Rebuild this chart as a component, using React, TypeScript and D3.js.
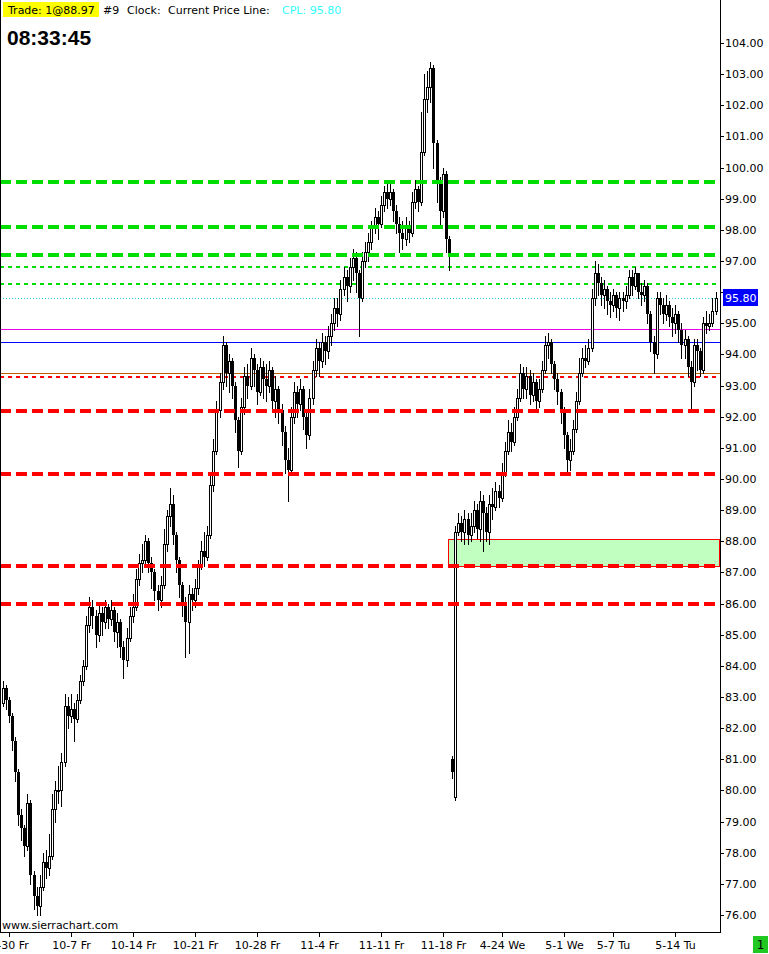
import React from "react";
import * as d3 from "d3";

type Bar = [number, number, number, number]; // open, high, low, close

const barsSep30: Bar[] = [
  [82.8,83.5,82.7,83.3],[83.3,83.4,82.6,82.9],[82.9,83.0,82.2,82.4],[82.4,82.5,81.3,81.6],
  [81.6,81.7,80.3,80.6],[80.6,80.7,78.9,79.2],[79.2,79.4,78.4,78.8],[78.8,78.9,77.9,78.2],
  [78.2,79.9,78.1,79.6],[79.6,79.7,77.0,77.3],[77.3,77.4,76.2,76.6],[76.6,76.9,76.0,76.3],
  [76.3,77.3,76.0,76.9],[76.9,78.0,76.8,77.7],[77.7,78.1,77.2,77.5],[77.5,78.6,77.3,77.9],
  [77.9,79.9,77.8,79.4],[79.4,80.3,79.0,80.0],[80.0,80.8,79.6,80.0],[80.0,81.2,79.5,80.9],
  [80.9,83.1,80.8,82.7],[82.7,83.0,82.0,82.4],
];
const barsOct07: Bar[] = [
  [82.4,83.1,82.2,82.6],[82.6,82.8,81.6,82.3],[82.3,83.1,82.2,82.9],[82.9,83.7,82.8,83.5],
  [83.5,84.2,83.4,84.0],[84.0,85.6,83.9,85.3],[85.3,86.2,85.1,85.9],[85.9,86.1,85.2,85.6],
  [85.6,85.8,84.6,85.0],[85.0,86.0,84.8,85.7],[85.7,85.9,85.0,85.4],[85.4,86.1,85.2,85.9],
  [85.9,86.0,85.2,85.5],[85.5,86.1,85.3,85.8],[85.8,85.9,84.8,85.1],[85.1,85.7,84.6,85.4],
  [85.4,85.5,84.3,84.6],[84.6,84.8,83.6,84.2],[84.2,85.2,84.0,84.9],[84.9,85.9,84.8,85.6],
];
const barsOct14: Bar[] = [
  [85.6,86.3,85.4,85.9],[85.9,87.1,85.8,86.8],[86.8,87.6,86.6,87.3],[87.3,87.9,87.0,87.4],
  [87.4,88.2,87.2,88.0],[88.0,88.1,87.0,87.3],[87.3,87.5,86.5,87.0],[87.0,87.1,86.1,86.4],
  [86.4,86.6,85.8,86.1],[86.1,86.9,85.9,86.6],[86.6,88.4,86.5,87.9],[87.9,89.0,87.7,88.8],
  [88.8,89.7,88.5,89.2],[89.2,89.5,87.9,88.2],[88.2,88.3,87.0,87.4],[87.4,87.5,86.2,86.6],
  [86.6,86.7,85.6,86.0],[86.0,86.2,84.3,85.4],[85.4,86.6,84.4,86.3],[86.3,86.5,85.8,86.1],
];
const barsOct21: Bar[] = [
  [86.1,86.8,85.9,86.5],[86.5,87.4,86.3,87.2],[87.2,88.0,87.1,87.7],[87.7,88.3,87.2,87.5],
  [87.5,88.5,87.4,88.2],[88.2,90.1,88.1,89.8],[89.8,91.3,89.6,90.9],[90.9,92.5,90.8,92.2],
  [92.2,93.4,92.0,93.1],[93.1,94.6,92.9,94.3],[94.3,94.4,93.0,93.4],[93.4,94.0,92.8,93.8],
  [93.8,93.9,92.6,93.0],[93.0,93.1,91.5,91.9],[91.9,92.0,90.4,90.9],[90.9,92.6,90.8,92.3],
  [92.3,93.6,92.1,93.3],[93.3,93.7,92.6,93.0],[93.0,94.2,92.9,93.9],[93.9,94.0,93.0,93.5],
];
const barsOct28: Bar[] = [
  [93.5,93.7,92.4,92.8],[92.8,93.9,92.7,93.6],[93.6,93.8,92.6,93.2],[93.2,93.7,92.5,93.0],
  [93.0,93.8,92.8,93.5],[93.5,93.6,92.2,92.5],[92.5,93.3,92.0,92.9],[92.9,93.0,91.8,92.2],
  [92.2,92.4,91.1,91.5],[91.5,91.7,90.2,90.6],[90.6,91.0,89.3,90.3],[90.3,92.3,90.2,92.0],
  [92.0,93.1,91.8,92.8],[92.8,93.0,92.0,92.4],[92.4,93.2,92.2,92.9],[92.9,93.0,91.6,92.0],
  [92.0,92.2,91.0,91.4],[91.4,92.9,91.3,92.6],[92.6,93.8,92.4,93.5],[93.5,94.5,93.3,94.2],
];
const barsNov04: Bar[] = [
  [94.2,94.4,93.3,93.8],[93.8,94.7,93.6,94.4],[94.4,94.6,93.7,94.1],[94.1,94.9,93.9,94.6],
  [94.6,95.3,94.3,95.0],[95.0,95.8,94.8,95.5],[95.5,95.8,94.9,95.3],[95.3,96.4,95.1,96.1],
  [96.1,96.8,95.9,96.5],[96.5,96.7,95.7,96.2],[96.2,97.1,96.0,96.8],[96.8,97.4,96.4,97.1],
  [97.1,97.3,96.0,96.6],[96.6,96.7,94.6,95.8],[95.8,97.3,95.7,97.0],[97.0,97.6,96.8,97.3],
  [97.3,97.9,97.0,97.6],[97.6,98.3,97.4,98.1],[98.1,98.7,97.9,98.4],[98.4,98.6,97.7,98.2],
];
const barsNov11: Bar[] = [
  [98.2,99.1,98.1,98.8],[98.8,99.4,98.6,99.2],[99.2,99.5,98.7,99.0],[99.0,99.5,98.8,99.2],
  [99.2,99.3,98.3,98.6],[98.6,98.8,97.9,98.2],[98.2,98.4,97.3,97.9],[97.9,98.3,97.4,97.7],
  [97.7,98.4,97.5,98.1],[98.1,98.3,97.6,97.9],[97.9,99.2,97.8,98.9],[98.9,99.6,98.7,99.3],
  [99.3,99.4,98.6,98.9],[98.9,101.8,98.8,100.5],[100.5,103.0,100.4,102.2],[102.2,103.1,101.8,102.6],
  [102.6,103.4,102.1,103.2],[103.2,103.3,100.0,100.8],[100.8,100.9,98.9,99.6],[99.6,99.7,98.2,98.6],
];
const barsNov18: Bar[] = [
  [98.6,100.0,98.4,99.8],[99.8,99.9,97.3,97.7],[97.7,97.8,96.7,97.2],[81.0,81.1,80.4,80.6],
  [79.8,88.5,79.7,88.3],[88.3,88.9,88.2,88.6],[88.6,88.8,88.0,88.3],[88.3,89.0,87.9,88.7],
  [88.7,88.9,87.9,88.2],[88.2,88.9,88.0,88.5],[88.5,89.3,88.3,89.0],[89.0,89.2,88.1,88.4],
  [88.4,89.6,88.0,89.3],[89.3,89.5,87.7,88.9],[88.9,89.1,88.0,88.3],[88.3,89.5,87.9,89.2],
  [89.2,89.7,88.7,89.1],[89.1,89.9,89.0,89.6],[89.6,89.8,89.1,89.4],
];
const barsApr24: Bar[] = [
  [89.4,90.5,89.3,90.2],[90.2,91.2,90.1,90.9],[90.9,91.9,90.8,91.5],[91.5,91.8,90.9,91.2],
  [91.2,92.3,91.1,92.0],[92.0,92.9,91.9,92.6],[92.6,93.7,92.5,93.4],[93.4,93.6,92.6,92.9],
  [92.9,93.6,92.6,93.3],[93.3,93.5,92.4,92.7],[92.7,93.4,92.5,93.1],[93.1,93.2,92.2,92.5],
  [92.5,93.2,92.3,92.9],[92.9,93.8,92.8,93.5],[93.5,94.6,93.4,94.3],[94.3,94.7,93.9,94.4],
  [94.4,94.5,93.4,93.7],[93.7,93.8,92.9,93.2],[93.2,93.4,92.4,92.8],[92.8,92.9,91.8,92.2],
];
const barsMay01: Bar[] = [
  [92.2,92.3,91.0,91.4],[91.4,91.5,90.2,90.6],[90.6,91.3,90.3,90.9],[90.9,91.9,90.8,91.6],
  [91.6,92.8,91.5,92.5],[92.5,93.9,92.4,93.4],[93.4,94.2,93.3,93.9],[93.9,94.3,93.6,93.8],
  [93.8,94.5,93.7,94.2],[94.2,96.1,94.1,95.8],[95.8,97.0,95.6,96.6],[96.6,96.9,95.9,96.3],
  [96.3,96.5,95.6,95.9],[95.9,96.4,95.5,96.1],[96.1,96.2,95.3,95.7],[95.7,96.0,95.2,95.6],
];
const barsMay07: Bar[] = [
  [95.6,96.1,95.4,95.9],[95.9,96.0,95.2,95.5],[95.5,96.0,95.1,95.8],[95.8,96.0,95.4,95.7],
  [95.7,96.2,95.5,95.9],[95.9,96.7,95.8,96.5],[96.5,96.7,95.9,96.2],[96.2,96.8,96.1,96.6],
  [96.6,96.6,95.8,96.0],[96.0,96.3,95.6,95.9],[95.9,96.4,95.7,96.2],[96.2,96.3,95.0,95.3],
  [95.3,95.4,94.1,94.4],[94.4,94.6,93.4,94.0],[94.0,96.0,93.9,95.8],[95.8,96.0,95.3,95.6],
  [95.6,95.8,95.0,95.3],[95.3,95.9,95.1,95.6],[95.6,95.7,94.9,95.2],[95.2,95.5,94.6,95.0],
];
const barsMay14: Bar[] = [
  [95.0,95.6,94.7,95.3],[95.3,95.4,94.4,94.8],[94.8,95.0,93.9,94.3],[94.3,94.8,93.9,94.5],
  [94.5,94.6,93.3,93.6],[93.6,93.8,92.2,93.1],[93.1,94.5,93.0,94.3],[94.3,94.5,93.5,94.1],
  [94.1,94.2,93.3,93.5],[93.5,95.2,93.4,95.0],[95.0,95.4,94.7,94.9],[94.9,95.3,94.8,95.0],
  [95.0,95.8,94.9,95.4],[95.4,96.0,95.3,95.8],
];

const dateLabels = ["9-30 Fr","10-7 Fr","10-14 Fr","10-21 Fr","10-28 Fr","11-4 Fr","11-11 Fr","11-18 Fr","4-24 We","5-1 We","5-7 Tu","5-14 Tu"];
const dateTickIndex = [2,22,42,62,82,102,122,142,161,181,197,217];

const priceTicks = d3.range(76, 105, 1);

const greenThickLevels = [99.54, 98.09, 97.19];
const greenThinLevels = [96.80, 96.27];
const redThickLevels = [92.18, 90.15, 87.22, 85.98];
const redThinLevels = [93.28];
const magentaLevel = 94.81;
const blueLevel = 94.39;
const brownLevel = 93.40;
const currentPrice = 95.80;
const zoneTop = 88.06;
const zoneBottom = 87.22;
const zoneStartIndex = 144;

const W = 769, H = 954;
const plotRight = 720, plotBottom = 932;
const FONT = "'DejaVu Sans', Verdana, sans-serif";

export default function App() {
  const bars: Bar[] = [
    ...barsSep30, ...barsOct07, ...barsOct14, ...barsOct21, ...barsOct28, ...barsNov04,
    ...barsNov11, ...barsNov18, ...barsApr24, ...barsMay01, ...barsMay07, ...barsMay14,
  ];
  const x = d3.scaleBand<number>().domain(d3.range(bars.length)).range([1, 1 + bars.length * 3.1]).padding(0);
  const cx = (i: number) => Math.round((x(i) as number) + x.bandwidth() / 2);
  const y = d3.scaleLinear().domain([76, 104]).range([915, 43]);
  const yr = (p: number) => Math.round(y(p));
  const lineEnd = 716;
  const cplY = yr(currentPrice);

  return (
    <>
      <style>{"body{margin:0}"}</style>
      <svg width={W} height={H} style={{ display: "block", background: "#fff" }} fontFamily={FONT}>
        <defs>
          <clipPath id="plot"><rect x={1} y={0} width={plotRight - 1} height={plotBottom} /></clipPath>
        </defs>

        {/* zone */}
        <rect x={cx(zoneStartIndex) - 0.5} y={yr(zoneTop) + 0.5} width={plotRight - cx(zoneStartIndex)}
          height={yr(zoneBottom) - yr(zoneTop)} fill="#c0ffc0" stroke="#ff0000" strokeWidth={1} />

        {/* solid lines */}
        <line x1={0} x2={plotRight} y1={yr(magentaLevel) + 0.5} y2={yr(magentaLevel) + 0.5} stroke="#ee00ee" />
        <line x1={0} x2={plotRight} y1={yr(blueLevel) + 0.5} y2={yr(blueLevel) + 0.5} stroke="#0000ff" />
        <line x1={0} x2={plotRight} y1={yr(brownLevel) + 0.5} y2={yr(brownLevel) + 0.5} stroke="#c06000" />
        <line x1={0} x2={plotRight} y1={cplY + 0.5} y2={cplY + 0.5} stroke="#20d0d0" strokeDasharray="1,2" />

        {greenThinLevels.map((p, k) => (
          <line key={"gt" + k} x1={0} x2={lineEnd} y1={yr(p)} y2={yr(p)} stroke="#00dd00" strokeWidth={2} strokeDasharray="4,4" />
        ))}
        {redThinLevels.map((p, k) => (
          <line key={"rt" + k} x1={0} x2={lineEnd} y1={yr(p)} y2={yr(p)} stroke="#ff0000" strokeWidth={2} strokeDasharray="4,4" />
        ))}

        {/* candles */}
        <g clipPath="url(#plot)">
          {bars.map(([o, h, l, c], i) => {
            const X = cx(i);
            const top = yr(Math.max(o, c));
            const bot = yr(Math.min(o, c));
            const up = c >= o;
            return (
              <g key={i}>
                <line x1={X + 0.5} x2={X + 0.5} y1={yr(Math.max(h, o, c))} y2={yr(Math.min(l, o, c)) + 1} stroke="#000" strokeWidth={1} />
                {up ? (
                  <rect x={X - 0.5} y={top + 0.5} width={2} height={Math.max(bot - top, 1)} fill="#fff" stroke="#000" strokeWidth={1} />
                ) : (
                  <rect x={X - 1} y={top} width={3} height={Math.max(bot - top, 2)} fill="#000" />
                )}
              </g>
            );
          })}
        </g>

        {/* thick dashed levels */}
        {greenThickLevels.map((p, k) => (
          <line key={"g" + k} x1={0} x2={lineEnd} y1={yr(p)} y2={yr(p)} stroke="#00dd00" strokeWidth={4} strokeDasharray="11,5" />
        ))}
        {redThickLevels.map((p, k) => (
          <line key={"r" + k} x1={0} x2={lineEnd} y1={yr(p)} y2={yr(p)} stroke="#ff0000" strokeWidth={4} strokeDasharray="11,5" />
        ))}

        {/* frame */}
        <line x1={0.5} x2={0.5} y1={0} y2={plotBottom} stroke="#000" />
        <line x1={plotRight + 0.5} x2={plotRight + 0.5} y1={0} y2={plotBottom + 1} stroke="#000" />
        <line x1={0} x2={plotRight + 1} y1={plotBottom + 0.5} y2={plotBottom + 0.5} stroke="#000" />

        {/* price axis */}
        {priceTicks.map((p) => (
          <g key={p}>
            <line x1={plotRight + 1} x2={plotRight + 4} y1={yr(p) + 0.5} y2={yr(p) + 0.5} stroke="#000" />
            {Math.abs(yr(p) - cplY) > 12 && (
              <text x={725} y={yr(p) + 4} fontSize={11} fill="#000">{p.toFixed(2)}</text>
            )}
          </g>
        ))}
        <rect x={723} y={cplY - 9} width={35} height={17} fill="#0000ff" />
        <text x={725} y={cplY + 4} fontSize={11} fill="#fff">{currentPrice.toFixed(2)}</text>

        {/* date axis */}
        {dateTickIndex.map((idx, k) => (
          <g key={k}>
            <line x1={cx(idx) + 0.5} x2={cx(idx) + 0.5} y1={plotBottom} y2={plotBottom + 5} stroke="#000" />
            <text x={cx(idx) + 0.5} y={949} fontSize={11} textAnchor="middle" fill="#000">{dateLabels[k]}</text>
          </g>
        ))}

        <text x={2} y={929} fontSize={11} fill="#000">www.sierrachart.com</text>

        {/* header */}
        <rect x={3} y={2} width={96} height={15} fill="#ffff00" />
        <text x={8} y={14} fontSize={11} fill="#000">Trade: 1@88.97</text>
        <text x={103} y={14} fontSize={11} fill="#000">#9</text>
        <text x={127} y={14} fontSize={11} fill="#000">Clock:</text>
        <text x={168} y={14} fontSize={11} fill="#000">Current Price Line:</text>
        <text x={282} y={14} fontSize={11} fill="#33ffff">CPL: 95.80</text>
        <text x={7} y={45} fontSize={21} fontWeight="bold" fontFamily="'Liberation Sans', Arial, sans-serif" fill="#000">08:33:45</text>

        <rect x={753} y={936} width={15} height={17} fill="#22c822" />
        <text x={760.5} y={949} fontSize={12} textAnchor="middle" fill="#000">1</text>
      </svg>
    </>
  );
}
